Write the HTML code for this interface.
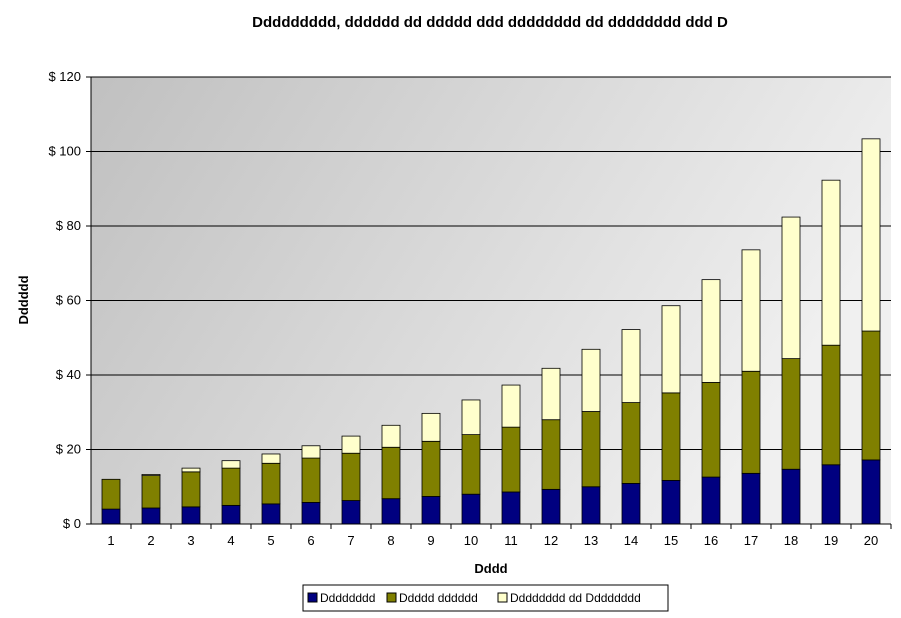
<!DOCTYPE html>
<html><head><meta charset="utf-8"><style>
body{margin:0;background:#fff;font-family:"Liberation Sans",Arial,sans-serif;}
svg text{font-family:"Liberation Sans",Arial,sans-serif;}
</style></head><body>
<svg id="chart" width="901" height="613">
<defs><linearGradient id="bg" x1="0" y1="0" x2="1" y2="0.35"><stop offset="0" stop-color="#c0c0c0"/><stop offset="1" stop-color="#f0f0f0"/></linearGradient></defs>
<text x="490" y="27" font-size="15" font-weight="bold" text-anchor="middle">Ddddddddd, dddddd dd ddddd ddd dddddddd dd dddddddd ddd D</text>
<rect x="91" y="77" width="800" height="447" fill="url(#bg)"/>
<g id="grid"></g><g id="bars"></g><g id="axes"></g>
<text x="28" y="300" font-size="13" font-weight="bold" text-anchor="middle" transform="rotate(-90 28 300)">Dddddd</text>
<text x="491" y="573" font-size="13" font-weight="bold" text-anchor="middle">Dddd</text>
<g>
<rect x="303" y="585" width="365" height="26" fill="#fff" stroke="#000"/>
<g><rect x="308" y="593" width="9" height="9" fill="#000080" stroke="#000"/><text x="320" y="602" font-size="12">Dddddddd</text></g>
<g><rect x="387" y="593" width="9" height="9" fill="#808000" stroke="#000"/><text x="399" y="602" font-size="12">Ddddd dddddd</text></g>
<g><rect x="498" y="593" width="9" height="9" fill="#ffffcc" stroke="#000"/><text x="510" y="602" font-size="12">Dddddddd dd Dddddddd</text></g>
</g>
</svg>
<script>
const categories=[1,2,3,4,5,6,7,8,9,10,11,12,13,14,15,16,17,18,19,20];
const seriesBlue=[4,4.3,4.6,5,5.4,5.8,6.3,6.8,7.4,8,8.6,9.3,10,10.9,11.7,12.6,13.6,14.7,15.9,17.2];
const seriesGreen=[8,8.7,9.4,10,10.9,11.9,12.7,13.8,14.8,16,17.4,18.7,20.2,21.7,23.5,25.4,27.4,29.7,32.1,34.6];
const seriesYellow=[0,0.3,1,2,2.5,3.3,4.6,5.9,7.5,9.3,11.3,13.8,16.7,19.6,23.4,27.6,32.6,38,44.3,51.6];
const yTicks=[0,20,40,60,80,100,120];
const yTickLabels=["$ 0","$ 20","$ 40","$ 60","$ 80","$ 100","$ 120"];
const NS="http://www.w3.org/2000/svg";
const X0=91,X1=891,Y0=524,Y1=77,YMAX=120;
function y(v){return Y0-(v/YMAX)*(Y0-Y1);}
function xc(i){return X0+(X1-X0)/categories.length*(i+0.5);}
function mk(tag,attrs,parent){const e=document.createElementNS(NS,tag);for(const k in attrs)e.setAttribute(k,attrs[k]);parent.appendChild(e);return e;}
const grid=document.getElementById('grid'),bars=document.getElementById('bars'),axes=document.getElementById('axes');
yTicks.forEach((t,i)=>{
 if(t>0){const g=mk('line',{x1:X0,x2:X1,y1:y(t),y2:y(t),stroke:'#000','stroke-width':1},grid);
 
 }
 const tk=mk('line',{x1:X0-5,x2:X0,y1:y(t),y2:y(t),stroke:'#000'},axes);
 
 
 const lb=mk('text',{x:X0-10,y:y(t)+4,'font-size':13,'text-anchor':'end'},axes);lb.textContent=yTickLabels[i];
 
 
});
const series=[[seriesBlue,'#000080'],[seriesGreen,'#808000'],[seriesYellow,'#ffffcc']];
categories.forEach((c,i)=>{
 let base=0;const cx=xc(i),w=18;
 series.forEach(([arr,col],s)=>{
  const v=arr[i];if(v<=0)return;
  const r=mk('rect',{x:cx-w/2,y:y(base+v),width:w,height:y(base)-y(base+v),fill:col,stroke:'#000','stroke-width':0.8},bars);
  
  
  base+=v;
 });
 const lb=mk('text',{x:cx,y:Y0+21,'font-size':13,'text-anchor':'middle'},axes);lb.textContent=c;
 
 
 const tk=mk('line',{x1:X0+(X1-X0)/categories.length*(i+1),x2:X0+(X1-X0)/categories.length*(i+1),y1:Y0,y2:Y0+5,stroke:'#000'},axes);
 
 
});
const ax=mk('line',{x1:X0,x2:X1,y1:Y0,y2:Y0,stroke:'#000'},axes);


const ay=mk('line',{x1:X0,x2:X0,y1:Y1,y2:Y0,stroke:'#000'},axes);


</script>
</body></html>
